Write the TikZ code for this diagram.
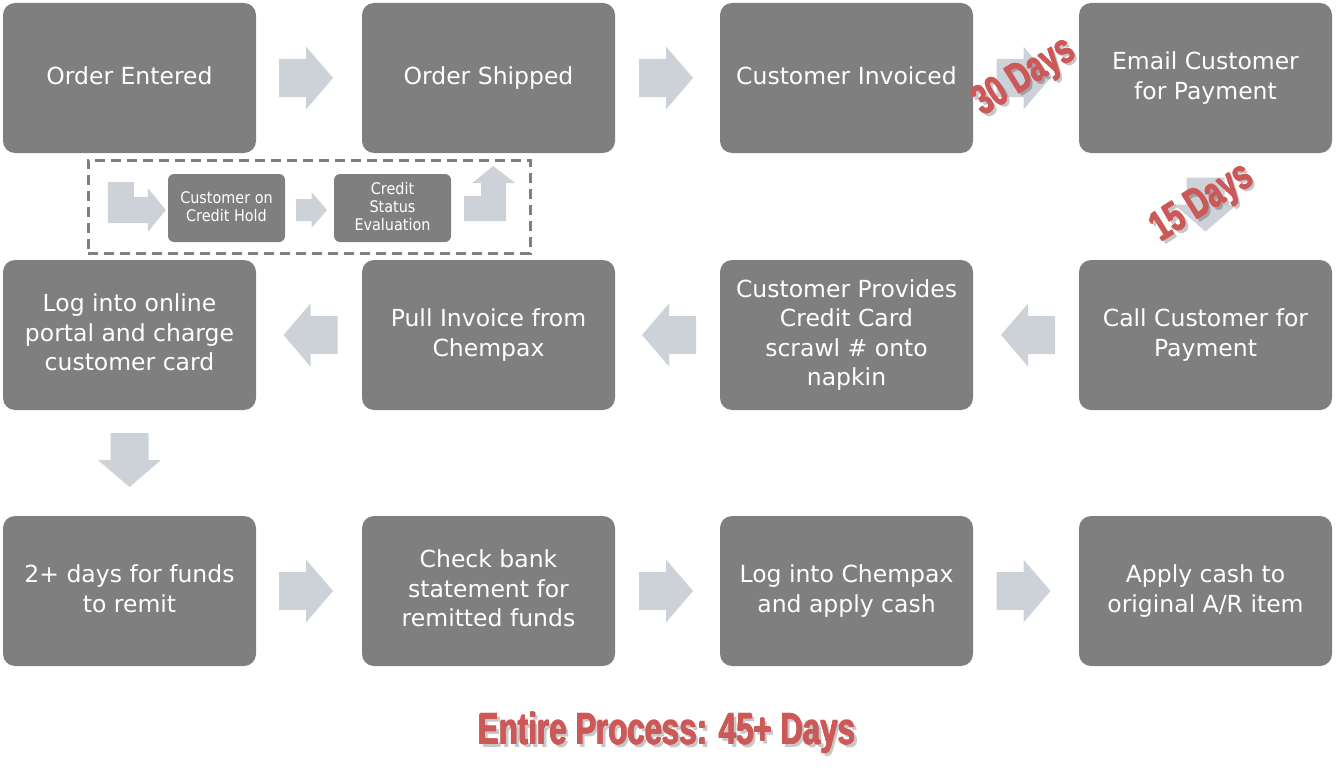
\documentclass[tikz,border=0pt]{standalone}
\usepackage{fontspec}
\usepackage{graphicx}
\setmainfont{DejaVu Sans}
\newfontfamily\smallfont{DejaVu Sans Condensed}
\newfontfamily\heavyfont{Liberation Sans}
\usetikzlibrary{calc}
\definecolor{boxgray}{RGB}{127,127,127}
\definecolor{arrowgray}{RGB}{205,209,216}
\definecolor{daysred}{RGB}{205,88,88}
\newcommand{\heavy}[3]{{\heavyfont\bfseries\fontsize{#1}{#1}\selectfont\scalebox{#2}[1]{#3}}}
\tikzset{
  stepbox/.style={fill=boxgray, rounded corners=12pt, minimum width=253pt, minimum height=150pt,
    text=white, align=center, font=\fontsize{23.5}{29.5}\selectfont, inner sep=0pt,
    execute at begin node={\vphantom{Ag}}, execute at end node={\vphantom{Ag}}},
  smallbox/.style={fill=boxgray, rounded corners=6pt, minimum width=117pt, minimum height=68pt,
    text=white, align=center, font=\smallfont\fontsize{16}{18}\selectfont, inner sep=0pt,
    execute at begin node={\vphantom{Ag}}, execute at end node={\vphantom{Ag}}},
  holdframe/.style={draw=boxgray, line width=3pt, dash pattern=on 10pt off 6pt, minimum width=442pt, minimum height=93pt, inner sep=0pt},
  bigarrow/.pic={\fill[arrowgray] (-27,-19) -- (0,-19) -- (0,-31.5) -- (27,0) -- (0,31.5) -- (0,19) -- (-27,19) -- cycle;},
  smallarrow/.pic={\fill[arrowgray] (-15.5,-11) -- (0,-11) -- (0,-18) -- (15.5,0) -- (0,18) -- (0,11) -- (-15.5,11) -- cycle;},
  redtext/.style={text=daysred, inner sep=0pt},
  shadowtext/.style={text=black, opacity=0.22, inner sep=0pt},
}
\begin{document}
\begin{tikzpicture}[x=1pt,y=-1pt]
\useasboundingbox (0,0) rectangle (1336,784);
% row 1
\node[stepbox] (oe) at (129.5,78) {Order Entered};
\node[stepbox] (os) at (488.5,78) {Order Shipped};
\node[stepbox] (ci) at (846.5,78) {Customer Invoiced};
\node[stepbox] (ec) at (1205.5,78) {Email Customer\\for Payment};
% row 2
\node[stepbox] (lo) at (129.5,335) {Log into online\\portal and charge\\customer card};
\node[stepbox] (pi) at (488.5,335) {Pull Invoice from\\Chempax};
\node[stepbox] (cp) at (846.5,335) {Customer Provides\\Credit Card\\scrawl \# onto\\napkin};
\node[stepbox] (cc) at (1205.5,335) {Call Customer for\\Payment};
% row 3
\node[stepbox] (db) at (129.5,591) {2+ days for funds\\to remit};
\node[stepbox] (cb) at (488.5,591) {Check bank\\statement for\\remitted funds};
\node[stepbox] (lc) at (846.5,591) {Log into Chempax\\and apply cash};
\node[stepbox] (ac) at (1205.5,591) {Apply cash to\\original A/R item};
% arrows row 1
\pic at ($(oe.east)!0.5!(os.west)+(-3,0)$) {bigarrow};
\pic at ($(os.east)!0.5!(ci.west)+(-1.5,0)$) {bigarrow};
\pic at ($(ci.east)!0.5!(ec.west)+(-2.5,0)$) {bigarrow};
\pic[rotate=-90] at ($(ec.south)!0.5!(cc.north)+(0,-2)$) {bigarrow};
% arrows row 2
\pic[rotate=180] at ($(cc.west)!0.5!(cp.east)+(2,0)$) {bigarrow};
\pic[rotate=180] at ($(cp.west)!0.5!(pi.east)+(1.5,0)$) {bigarrow};
\pic[rotate=180] at ($(pi.west)!0.5!(lo.east)+(1.5,0)$) {bigarrow};
\pic[rotate=-90] at ($(lo.south)!0.5!(db.north)+(0,-3)$) {bigarrow};
% arrows row 3
\pic at ($(db.east)!0.5!(cb.west)+(-3,0)$) {bigarrow};
\pic at ($(cb.east)!0.5!(lc.west)+(-1.5,0)$) {bigarrow};
\pic at ($(lc.east)!0.5!(ac.west)+(-2.5,0)$) {bigarrow};
% credit hold loop
\node[holdframe] (hold) at (309,206.5) {};
\node[smallbox] (ch) at (226.5,208) {Customer on\\Credit Hold};
\node[smallbox] (cs) at (392.5,208) {Credit\\Status\\Evaluation};
\pic at ($(ch.east)!0.5!(cs.west)+(2,2)$) {smallarrow};
\fill[arrowgray, shift={(ch.west)}] (-60,-26) -- (-34,-26) -- (-34,-11) -- (-20,-11) -- (-20,-20) -- (-2,2) -- (-20,24) -- (-20,15) -- (-60,15) -- cycle;
\fill[arrowgray, shift={(cs.east)}] (13,-12) -- (30,-12) -- (30,-25) -- (21,-25) -- (42,-42) -- (64,-25) -- (55,-25) -- (55,13) -- (13,13) -- cycle;
% red labels
\node[shadowtext, rotate=32] at (1028,81) {\heavy{42}{0.7}{30 Days}};
\foreach \dx/\dy in {-0.5/0,0.5/0,0/-0.5,0/0.5}
  \node[redtext, rotate=32] at (1025+\dx,78+\dy) {\heavy{42}{0.7}{30 Days}};
\node[redtext, rotate=32] (d30) at (1025,78) {\heavy{42}{0.7}{30 Days}};
\node[shadowtext, rotate=32] at (1206,207) {\heavy{42}{0.7}{15 Days}};
\foreach \dx/\dy in {-0.5/0,0.5/0,0/-0.5,0/0.5}
  \node[redtext, rotate=32] at (1203+\dx,204+\dy) {\heavy{42}{0.7}{15 Days}};
\node[redtext, rotate=32] (d15) at (1203,204) {\heavy{42}{0.7}{15 Days}};
\node[shadowtext] at (670,736) {\heavy{44}{0.71}{Entire Process: 45+ Days}};
\foreach \dx/\dy in {-0.5/0,0.5/0,0/-0.5,0/0.5}
  \node[redtext] at (667+\dx,733+\dy) {\heavy{44}{0.71}{Entire Process: 45+ Days}};
\node[redtext] (total) at (667,733) {\heavy{44}{0.71}{Entire Process: 45+ Days}};
\end{tikzpicture}
\end{document}
